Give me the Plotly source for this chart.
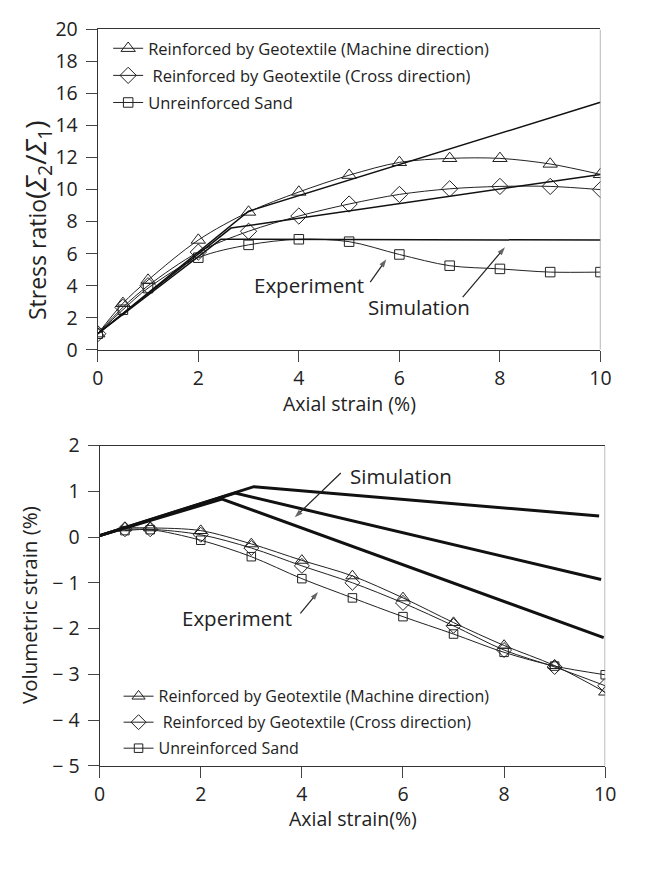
import plotly.graph_objects as go

# ---------------- data ----------------
# Top: stress ratio vs axial strain
strain_exp_top = [0, 0.5, 1, 2, 3, 4, 5, 6, 7, 8, 9, 10]
stress_machine = [1.0, 2.9, 4.35, 6.85, 8.6, 9.85, 10.9, 11.7, 11.95, 11.95, 11.6, 10.95]
stress_cross = [1.0, 2.65, 4.0, 6.1, 7.4, 8.35, 9.1, 9.7, 10.05, 10.2, 10.2, 10.0]
stress_unreinf = [1.0, 2.5, 3.85, 5.75, 6.55, 6.9, 6.75, 5.95, 5.25, 5.05, 4.85, 4.85]

sim_top_machine_x = [0, 3.0, 10]
sim_top_machine_y = [1.0, 8.65, 15.45]
sim_top_cross_x = [0, 2.65, 10]
sim_top_cross_y = [1.0, 7.6, 10.95]
sim_top_unreinf_x = [0, 2.45, 10]
sim_top_unreinf_y = [1.0, 6.9, 6.85]

# Bottom: volumetric strain vs axial strain
strain_exp_bot = [0.5, 1, 2, 3, 4, 5, 6, 7, 8, 9, 10]
vol_machine = [0.2, 0.2, 0.14, -0.15, -0.51, -0.85, -1.33, -1.87, -2.37, -2.81, -3.39]
vol_cross = [0.17, 0.17, 0.05, -0.24, -0.63, -1.0, -1.44, -1.94, -2.47, -2.84, -3.25]
vol_unreinf = [0.14, 0.16, -0.07, -0.43, -0.91, -1.33, -1.74, -2.12, -2.52, -2.82, -3.01]

sim_bot_a_x = [0, 3.05, 9.88]
sim_bot_a_y = [0.03, 1.1, 0.46]
sim_bot_b_x = [0, 2.68, 9.92]
sim_bot_b_y = [0.03, 0.96, -0.93]
sim_bot_c_x = [0, 2.42, 9.97]
sim_bot_c_y = [0.03, 0.83, -2.2]

names = ["Reinforced by Geotextile (Machine direction)",
         " Reinforced by Geotextile (Cross direction)",
         "Unreinforced Sand"]
symbols = ["triangle-up-open", "diamond-open", "square-open"]
msizes = [12.5, 12.5, 9.5]

top_x_ticks = [0, 2, 4, 6, 8, 10]
top_y_ticks = [0, 2, 4, 6, 8, 10, 12, 14, 16, 18, 20]
bot_y_ticks = [2, 1, 0, -1, -2, -3, -4, -5]
bot_y_text = ["2", "1", "0", "\u2212 1", "\u2212 2", "\u2212 3", "\u2212 4", "\u2212 5"]

# annotation labels (x, y) and arrows (tail -> head)
top_exp_label = (4.21, 4.03)
top_exp_arrow_x = [5.42, 5.74]
top_exp_arrow_y = [4.23, 5.65]
top_sim_label = (6.39, 2.7)
top_sim_arrow_x = [7.26, 8.1]
top_sim_arrow_y = [3.29, 6.4]
bot_sim_label = (5.97, 1.33)
bot_sim_arrow_x = [4.77, 3.86]
bot_sim_arrow_y = [1.4, 0.43]
bot_exp_label = (2.72, -1.76)
bot_exp_arrow_x = [3.97, 4.32]
bot_exp_arrow_y = [-1.67, -1.2]

# ---------------- figure ----------------
W, H = 652, 870
S = 652 / 690.0          # layout measured on a 690-wide copy of the page
FONT = "Open Sans"
INK = "#222222"


def px_x(p):
    return p * S / W


def px_y(p):
    return 1 - p * S / H


fig = go.Figure()

top_series = [stress_machine, stress_cross, stress_unreinf]
for i, ys in enumerate(top_series):
    fig.add_trace(go.Scatter(
        x=strain_exp_top, y=ys, mode="lines+markers", name=names[i],
        line=dict(color=INK, width=1, shape="spline", smoothing=0.9),
        marker=dict(symbol=symbols[i], size=msizes[i], color=INK, line=dict(width=1, color=INK)),
        xaxis="x", yaxis="y", legend="legend", legendgroup="t%d" % i))

for sx, sy in [(sim_top_machine_x, sim_top_machine_y),
               (sim_top_cross_x, sim_top_cross_y),
               (sim_top_unreinf_x, sim_top_unreinf_y)]:
    fig.add_trace(go.Scatter(x=sx, y=sy, mode="lines", showlegend=False,
                             line=dict(color="#111111", width=1.5),
                             xaxis="x", yaxis="y"))

bot_series = [vol_machine, vol_cross, vol_unreinf]
for i, ys in enumerate(bot_series):
    fig.add_trace(go.Scatter(
        x=strain_exp_bot, y=ys, mode="lines+markers", name=names[i],
        line=dict(color=INK, width=1, shape="spline", smoothing=0.9),
        marker=dict(symbol=symbols[i], size=msizes[i] - 1, color=INK, line=dict(width=1, color=INK)),
        xaxis="x2", yaxis="y2", legend="legend2", legendgroup="b%d" % i))

for sx, sy in [(sim_bot_a_x, sim_bot_a_y), (sim_bot_b_x, sim_bot_b_y), (sim_bot_c_x, sim_bot_c_y)]:
    fig.add_trace(go.Scatter(x=sx, y=sy, mode="lines", showlegend=False,
                             line=dict(color="#111111", width=3),
                             xaxis="x2", yaxis="y2"))

# arrows drawn as two-point lines with an arrow-head marker
for ax_, ay_, xa, ya in [(top_exp_arrow_x, top_exp_arrow_y, "x", "y"),
                         (top_sim_arrow_x, top_sim_arrow_y, "x", "y"),
                         (bot_sim_arrow_x, bot_sim_arrow_y, "x2", "y2"),
                         (bot_exp_arrow_x, bot_exp_arrow_y, "x2", "y2")]:
    fig.add_trace(go.Scatter(x=ax_, y=ay_, mode="lines+markers", showlegend=False,
                             line=dict(color=INK, width=1.2),
                             marker=dict(symbol=["circle", "arrow"], size=[0, 8.5], angleref="previous",
                                         color=INK, line=dict(width=0)),
                             xaxis=xa, yaxis=ya, hoverinfo="skip"))

axis_common = dict(showgrid=False, zeroline=False, ticks="outside", ticklen=11,
                   tickcolor="#444444", tickwidth=1.2, linecolor="#333333", linewidth=1.2,
                   tickfont=dict(family=FONT, size=19.5, color=INK), automargin=False)

fig.update_layout(
    width=W, height=H, margin=dict(l=0, r=0, t=0, b=0),
    paper_bgcolor="white", plot_bgcolor="white",
    font=dict(family=FONT, color=INK),
    xaxis=dict(domain=[px_x(95), px_x(627)], range=[0, 10], tickvals=top_x_ticks,
               mirror=True, anchor="y", **axis_common),
    yaxis=dict(domain=[px_y(361.7), px_y(22.7)], range=[0, 20], tickvals=top_y_ticks,
               anchor="x", ticklabelstandoff=4, **axis_common),
    xaxis2=dict(domain=[px_x(97), px_x(632)], range=[0, 10], tickvals=top_x_ticks,
                mirror=True, anchor="y2", **axis_common),
    yaxis2=dict(domain=[px_y(802), px_y(463)], range=[-5, 2], tickvals=bot_y_ticks,
                ticktext=bot_y_text, anchor="x2", ticklabelstandoff=4, **axis_common),
    legend=dict(x=px_x(106), y=px_y(24.4), xanchor="left", yanchor="top",
                bgcolor="rgba(0,0,0,0)", font=dict(family=FONT, size=16.5, color=INK),
                tracegroupgap=2.65, itemwidth=30),
    legend2=dict(x=px_x(117), y=px_y(710.4), xanchor="left", yanchor="top",
                 bgcolor="rgba(0,0,0,0)", font=dict(family=FONT, size=16, color=INK),
                 tracegroupgap=2.2, itemwidth=30),
    showlegend=True,
)

# right borders (lighter grey)
fig.add_shape(type="line", xref="x", yref="y", x0=10, x1=10, y0=0, y1=20,
              line=dict(color="#888888", width=1.2))
fig.add_shape(type="line", xref="x2", yref="y2", x0=10, x1=10, y0=-5, y1=2,
              line=dict(color="#888888", width=1.2))

# axis titles
fig.add_annotation(xref="paper", yref="paper", x=px_x(30), y=px_y(224), textangle=-90,
                   text=("Stress ratio<span style='font-size:28px'>(<i>\u03a3</i><sub>2</sub>"
                         "/<i>\u03a3</i><sub>1</sub>)</span>"),
                   showarrow=False, font=dict(family=FONT, size=23, color=INK),
                   xanchor="center", yanchor="middle")
fig.add_annotation(xref="paper", yref="paper", x=px_x(22), y=px_y(632), textangle=-90,
                   text="Volumetric strain (%)", showarrow=False,
                   font=dict(family=FONT, size=20.5, color=INK), xanchor="center", yanchor="middle")
fig.add_annotation(xref="paper", yref="paper", x=px_x(361), y=px_y(419),
                   text="Axial strain (%)", showarrow=False,
                   font=dict(family=FONT, size=19.5, color=INK), xanchor="center", yanchor="middle")
fig.add_annotation(xref="paper", yref="paper", x=px_x(365), y=px_y(858),
                   text="Axial strain(%)", showarrow=False,
                   font=dict(family=FONT, size=19.5, color=INK), xanchor="center", yanchor="middle")

ann_font = dict(family=FONT, size=20.5, color=INK)
for (lx, ly), txt, xa, ya in [(top_exp_label, "Experiment", "x", "y"),
                              (top_sim_label, "Simulation", "x", "y"),
                              (bot_sim_label, "Simulation", "x2", "y2"),
                              (bot_exp_label, "Experiment", "x2", "y2")]:
    fig.add_annotation(xref=xa, yref=ya, x=lx, y=ly, text=txt, showarrow=False, font=ann_font)

fig.write_html("out.html")
